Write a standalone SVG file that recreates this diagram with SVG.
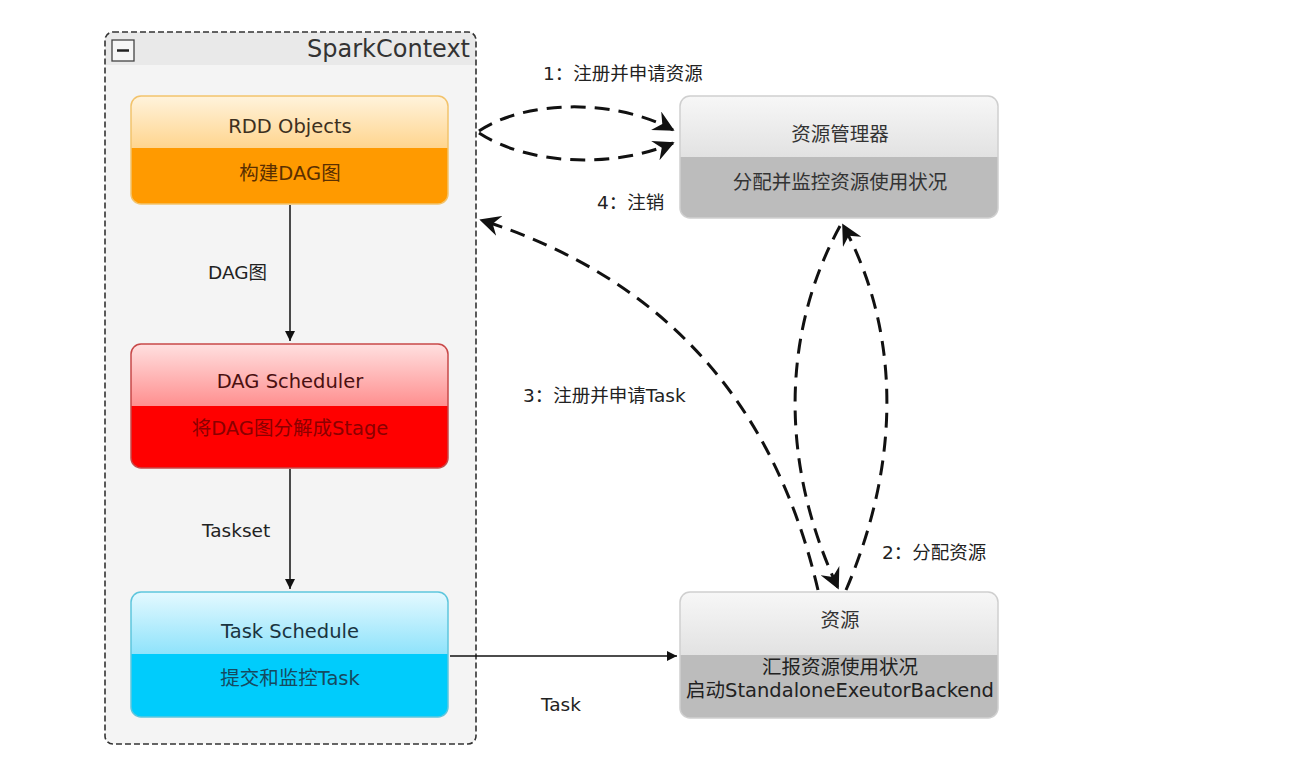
<svg xmlns="http://www.w3.org/2000/svg" width="1304" height="766" viewBox="0 0 1304 766">
<style>
text{font-family:"DejaVu Sans","Noto Sans CJK SC",sans-serif;}
.t{font-size:19.5px;text-anchor:middle;}
.lbl{font-size:18.5px;fill:#222;}
.dash{fill:none;stroke:#111;stroke-width:3;stroke-dasharray:15 9;}
.solid{fill:none;stroke:#111;stroke-width:1.5;}
</style>
<defs>
<linearGradient id="gO" x1="0" y1="0" x2="0" y2="1"><stop offset="0" stop-color="#fff3dc"/><stop offset="1" stop-color="#ffd58e"/></linearGradient>
<linearGradient id="gR" x1="0" y1="0" x2="0" y2="1"><stop offset="0" stop-color="#ffe0e0"/><stop offset="1" stop-color="#ff8f8f"/></linearGradient>
<linearGradient id="gB" x1="0" y1="0" x2="0" y2="1"><stop offset="0" stop-color="#e4f9ff"/><stop offset="1" stop-color="#8fe3fb"/></linearGradient>
<linearGradient id="gG" x1="0" y1="0" x2="0" y2="1"><stop offset="0" stop-color="#f7f7f7"/><stop offset="1" stop-color="#e2e2e2"/></linearGradient>
<marker id="ah" viewBox="0 0 12 12" refX="11" refY="6" markerWidth="7" markerHeight="7" orient="auto" markerUnits="strokeWidth"><path d="M0,0 L12,6 L0,12 L4,6 Z" fill="#111"/></marker>
<marker id="as" viewBox="0 0 10 10" refX="10" refY="5" markerWidth="10" markerHeight="10" orient="auto" markerUnits="userSpaceOnUse"><path d="M0,0 L10,5 L0,10 Z" fill="#111"/></marker>
</defs>

<g id="sparkcontext">
<rect x="105" y="32" width="371" height="712" rx="8" fill="#f4f4f4"/>
<path d="M113,32 H468 A8,8 0 0 1 476,40 V65 H105 V40 A8,8 0 0 1 113,32 Z" fill="#e9e9e9"/>
<rect x="105" y="32" width="371" height="712" rx="8" fill="none" stroke="#333" stroke-width="1.6" stroke-dasharray="6 3"/>
<rect x="112" y="40" width="22" height="21" fill="#f6f6f6" stroke="#444" stroke-width="1.3"/>
<line x1="117" y1="50.5" x2="129" y2="50.5" stroke="#222" stroke-width="2.5"/>
<text x="470" y="57" style="font-size:24px;text-anchor:end;fill:#333;">SparkContext</text>
</g>

<g id="rdd">
<rect x="131" y="96" width="317" height="108" rx="10" fill="#ff9a00"/>
<path d="M141,96 H438 A10,10 0 0 1 448,106 V148 H131 V106 A10,10 0 0 1 141,96 Z" fill="url(#gO)"/>
<rect x="131" y="96" width="317" height="108" rx="10" fill="none" stroke="#f2c36c" stroke-width="1.5"/>
<text class="t" x="290" y="133" fill="#3d3020">RDD Objects</text>
<text class="t" x="290" y="180" fill="#5a2f00">构建DAG图</text>
</g>

<g id="dagscheduler">
<rect x="131" y="344" width="317" height="124" rx="10" fill="#ff0000"/>
<path d="M141,344 H438 A10,10 0 0 1 448,354 V406 H131 V354 A10,10 0 0 1 141,344 Z" fill="url(#gR)"/>
<rect x="131" y="344" width="317" height="124" rx="10" fill="none" stroke="#c84848" stroke-width="1.5"/>
<text class="t" x="290" y="388" fill="#4a1010">DAG Scheduler</text>
<text class="t" x="290" y="435" fill="#8a0000">将DAG图分解成Stage</text>
</g>

<g id="taskschedule">
<rect x="131" y="592" width="317" height="125" rx="10" fill="#00ccfc"/>
<path d="M141,592 H438 A10,10 0 0 1 448,602 V654 H131 V602 A10,10 0 0 1 141,592 Z" fill="url(#gB)"/>
<rect x="131" y="592" width="317" height="125" rx="10" fill="none" stroke="#5ec6dd" stroke-width="1.5"/>
<text class="t" x="290" y="638" fill="#1a3440">Task Schedule</text>
<text class="t" x="290" y="685" fill="#164a60">提交和监控Task</text>
</g>

<g id="resourcemanager">
<rect x="680" y="96" width="318" height="122" rx="10" fill="#bcbcbc"/>
<path d="M690,96 H988 A10,10 0 0 1 998,106 V157 H680 V106 A10,10 0 0 1 690,96 Z" fill="url(#gG)"/>
<rect x="680" y="96" width="318" height="122" rx="10" fill="none" stroke="#cfcfcf" stroke-width="1.5"/>
<text class="t" x="840" y="141" fill="#333">资源管理器</text>
<text class="t" x="840" y="189" fill="#333">分配并监控资源使用状况</text>
</g>

<g id="resource">
<rect x="680" y="592" width="318" height="126" rx="10" fill="#bcbcbc"/>
<path d="M690,592 H988 A10,10 0 0 1 998,602 V655 H680 V602 A10,10 0 0 1 690,592 Z" fill="url(#gG)"/>
<rect x="680" y="592" width="318" height="126" rx="10" fill="none" stroke="#cfcfcf" stroke-width="1.5"/>
<text class="t" x="840" y="627" fill="#333">资源</text>
<text class="t" x="840" y="674" fill="#222">汇报资源使用状况</text>
<text class="t" x="840" y="697" fill="#222">启动StandaloneExeutorBackend</text>
</g>

<g id="connectors">
<line class="solid" x1="290" y1="205" x2="290" y2="341" marker-end="url(#as)"/>
<line class="solid" x1="290" y1="469" x2="290" y2="589" marker-end="url(#as)"/>
<line class="solid" x1="450" y1="656" x2="677" y2="656" marker-end="url(#as)"/>
<path class="dash" d="M479,131 C525,100 615,98 673,130" marker-end="url(#ah)"/>
<path class="dash" d="M479,133 C530,166 615,168 673,143" marker-end="url(#ah)"/>
<path class="dash" d="M818,590 Q752,306 481,220" marker-end="url(#ah)"/>
<path class="dash" d="M840,226 C783,330 778,460 838,588" marker-end="url(#ah)"/>
<path class="dash" d="M846,590 C902,460 900,330 843,225" marker-end="url(#ah)"/>
<text class="lbl" x="543" y="80">1：注册并申请资源</text>
<text class="lbl" x="597" y="209">4：注销</text>
<text class="lbl" x="523" y="402">3：注册并申请Task</text>
<text class="lbl" x="882" y="559">2：分配资源</text>
<text class="lbl" x="208" y="279">DAG图</text>
<text class="lbl" x="202" y="537">Taskset</text>
<text class="lbl" x="541" y="711">Task</text>
</g>
</svg>
